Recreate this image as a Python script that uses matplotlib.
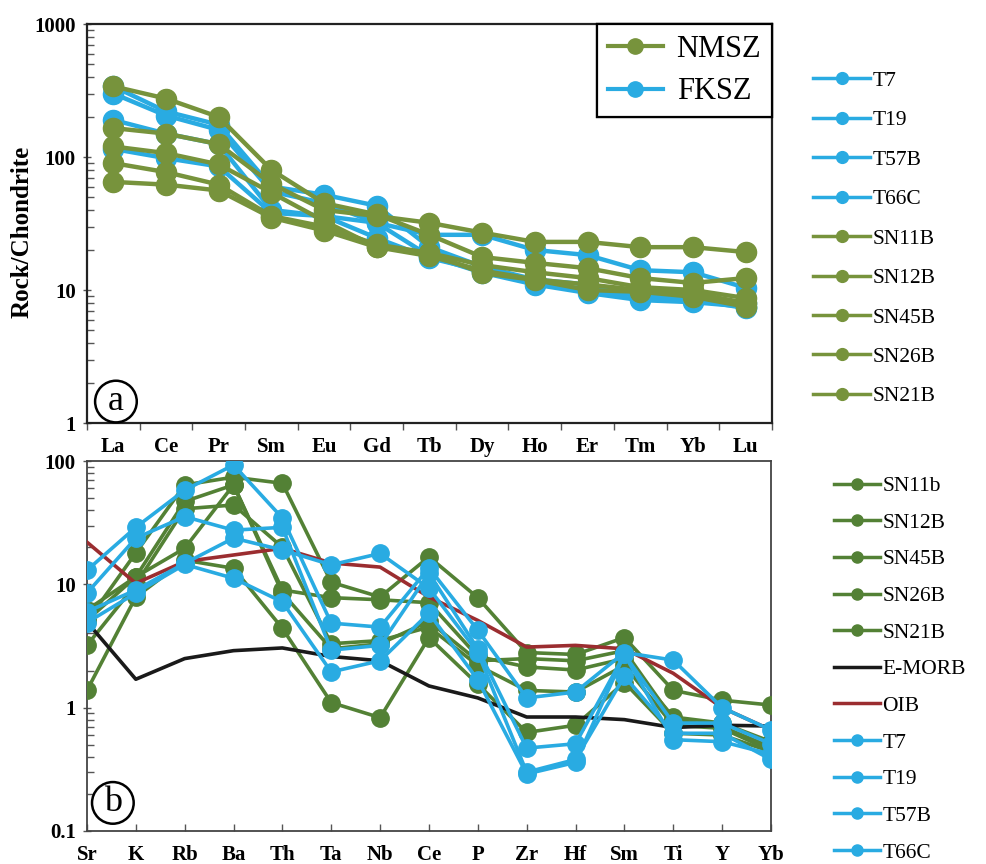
import matplotlib
matplotlib.use('Agg')
import matplotlib.pyplot as plt
from matplotlib.lines import Line2D
from matplotlib.ticker import FixedLocator, NullFormatter, LogLocator

plt.rcParams['font.family'] = ['Liberation Serif', 'DejaVu Serif']

# ---------------- data: panel (a) chondrite-normalised REE ----------------
ree = ['La', 'Ce', 'Pr', 'Sm', 'Eu', 'Gd', 'Tb', 'Dy', 'Ho', 'Er', 'Tm', 'Yb', 'Lu']
ree_T7 = [340, 220, 175, 60, 52, 43, 21, 15, 12, 11, 9.0, 8.5, 7.3]
ree_T19 = [300, 205, 160, 55, 45, 32, 26, 26, 20, 18.3, 14.1, 13.6, 10.4]
ree_T57B = [190, 150, 125, 40, 36, 32, 18, 13.5, 11, 9.5, 8.4, 8.1, 7.5]
ree_T66C = [115, 98, 85, 38, 36, 24.6, 17.4, 14, 11.5, 10, 9.0, 8.5, 8.0]
ree_SN11B = [340, 275, 200, 80, 45, 37, 26, 17.7, 16, 14.6, 12.3, 11.3, 12.3]
ree_SN12B = [165, 150, 125, 63, 40, 36, 32, 27, 23, 23, 21, 21, 19.3]
ree_SN45B = [120, 107, 88, 54, 33, 21, 19, 15.4, 13.6, 12.3, 10.5, 10, 8.7]
ree_SN26B = [90, 77, 62, 36, 30, 22, 19, 13.4, 11.9, 10, 9.7, 8.9, 7.5]
ree_SN21B = [65, 62, 56, 35, 28, 21, 18, 14, 12, 11, 10, 9.5, 8.0]

ree_blue_names = ['T7', 'T19', 'T57B', 'T66C']
ree_blue = [ree_T7, ree_T19, ree_T57B, ree_T66C]
ree_green_names = ['SN11B', 'SN12B', 'SN45B', 'SN26B', 'SN21B']
ree_green = [ree_SN11B, ree_SN12B, ree_SN45B, ree_SN26B, ree_SN21B]

# ---------------- data: panel (b) spider diagram ----------------
spider = ['Sr', 'K', 'Rb', 'Ba', 'Th', 'Ta', 'Nb', 'Ce', 'P', 'Zr', 'Hf', 'Sm', 'Ti', 'Y', 'Yb']
sp_SN11b = [5.0, 18, 64, 74, 66, 10.4, 7.9, 16.7, 7.8, 2.8, 2.7, 3.7, 1.38, 1.15, 1.05]
sp_SN12B = [6.2, 11.5, 47, 64, 9.0, 7.8, 7.5, 7.1, 2.6, 2.14, 2.02, 2.5, 0.84, 0.75, 0.53]
sp_SN45B = [3.2, 10, 41, 44, 20, 3.3, 3.5, 4.5, 2.2, 1.38, 1.34, 2.2, 0.72, 0.68, 0.45]
sp_SN26B = [1.38, 7.9, 15.7, 13.5, 4.4, 1.1, 0.83, 3.7, 1.55, 0.63, 0.72, 1.6, 0.62, 0.6, 0.44]
sp_SN21B = [5.1, 11.5, 19.6, 64, 8.5, 3.0, 3.3, 5.0, 2.4, 2.5, 2.4, 2.9, 0.8, 0.7, 0.48]
sp_EMORB = [4.96, 1.7, 2.5, 2.9, 3.05, 2.6, 2.4, 1.5, 1.2, 0.84, 0.84, 0.80, 0.69, 0.72, 0.71]
sp_OIB = [22, 10.2, 15.3, 17.3, 19.6, 14.9, 13.8, 7.9, 5.1, 3.1, 3.2, 3.0, 1.9, 1.0, 0.66]
sp_T7 = [13, 29, 58, 93, 34.5, 4.85, 4.5, 13.6, 4.25, 1.2, 1.34, 2.8, 2.43, 1.0, 0.66]
sp_T19 = [8.5, 23.7, 35.4, 27.5, 29, 2.93, 3.2, 12.3, 3.0, 0.47, 0.51, 2.7, 0.75, 0.75, 0.51]
sp_T57B = [6.0, 9.0, 14.8, 23.7, 19, 14.4, 17.8, 9.3, 2.8, 0.30, 0.38, 1.8, 0.62, 0.62, 0.38]
sp_T66C = [4.9, 8.5, 14.5, 11.2, 7.2, 1.95, 2.4, 5.85, 1.68, 0.29, 0.36, 2.7, 0.55, 0.53, 0.42]

sp_green_names = ['SN11b', 'SN12B', 'SN45B', 'SN26B', 'SN21B']
sp_green = [sp_SN11b, sp_SN12B, sp_SN45B, sp_SN26B, sp_SN21B]
sp_blue_names = ['T7', 'T19', 'T57B', 'T66C']
sp_blue = [sp_T7, sp_T19, sp_T57B, sp_T66C]

# ---------------- styles ----------------
BLUE = '#29ABE2'
OLIVE = '#77933C'
GREEN = '#538135'
BLACK = '#1a1a1a'
RED = '#9B2D30'
FS = 15
LFS = 15.5

fig = plt.figure(figsize=(9.87, 8.64), dpi=100)
ax1 = fig.add_axes([0.0881, 0.5104, 0.6940, 0.4618])
ax2 = fig.add_axes([0.0881, 0.0382, 0.6930, 0.4282])

# ---- panel a ----
xr = list(range(len(ree)))
for vals in ree_blue:
    ax1.plot(xr, vals, color=BLUE, lw=3.2, marker='o', ms=14.5, mec=BLUE, mfc=BLUE, zorder=3)
for vals in ree_green:
    ax1.plot(xr, vals, color=OLIVE, lw=3.2, marker='o', ms=14.5, mec=OLIVE, mfc=OLIVE, zorder=4)
ax1.set_yscale('log')
ax1.set_ylim(1, 1000)
ax1.set_xlim(-0.5, len(ree) - 0.5)
ax1.set_xticks(xr)
ax1.set_xticklabels(ree, fontsize=FS, fontweight='bold')
ax1.xaxis.set_minor_locator(FixedLocator([i - 0.5 for i in range(len(ree) + 1)]))
ax1.tick_params(axis='x', which='major', length=0, pad=10)
ax1.tick_params(axis='x', which='minor', length=5, width=1, direction='out', color='#555555')
ax1.set_yticks([1, 10, 100, 1000])
ax1.set_yticklabels(['1', '10', '100', '1000'], fontsize=FS, fontweight='bold')
ax1.yaxis.set_minor_locator(LogLocator(base=10, subs=range(2, 10)))
ax1.yaxis.set_minor_formatter(NullFormatter())
ax1.tick_params(axis='y', which='major', length=6, width=1, direction='inout', pad=5, color='#555555')
ax1.tick_params(axis='y', which='minor', length=5, width=1, direction='in', color='#555555')
ax1.set_ylabel('Rock/Chondrite', fontsize=18, fontweight='bold')
ax1.yaxis.set_label_coords(-0.078, 0.48)
for s in ax1.spines.values():
    s.set_linewidth(1.6)
    s.set_color('#222222')

leg_in = ax1.legend([Line2D([], [], color=OLIVE, lw=3, marker='o', ms=11),
                     Line2D([], [], color=BLUE, lw=3, marker='o', ms=11)],
                    ['NMSZ', 'FKSZ'], loc='upper right', bbox_to_anchor=(1.0, 1.0),
                    borderaxespad=0, fancybox=False, edgecolor='black', framealpha=1,
                    fontsize=22, handlelength=1.8, handletextpad=0.45, labelspacing=0.45,
                    borderpad=0.35)
leg_in.get_frame().set_linewidth(1.6)
ax1.add_artist(leg_in)

ax1.text(0.05, 1.45, 'a', fontsize=26, ha='center', va='center',
         bbox=dict(boxstyle='circle,pad=0.12', fc='white', ec='black', lw=1.8), zorder=6)

h1 = [Line2D([], [], color=BLUE, lw=2.5, marker='o', ms=8.5) for _ in ree_blue_names] + \
     [Line2D([], [], color=OLIVE, lw=2.5, marker='o', ms=8.5) for _ in ree_green_names]
fig.legend(h1, ree_blue_names + ree_green_names, loc='upper left',
           bbox_to_anchor=(0.824, 0.918), frameon=False, fontsize=LFS,
           handlelength=2.65, handletextpad=0.1, labelspacing=0.9, borderaxespad=0, borderpad=0)

# ---- panel b ----
xs = list(range(len(spider)))
for vals in sp_green:
    ax2.plot(xs, vals, color=GREEN, lw=2.6, marker='o', ms=12.5, mec=GREEN, mfc=GREEN, zorder=3)
ax2.plot(xs, sp_EMORB, color=BLACK, lw=2.6, zorder=4)
ax2.plot(xs, sp_OIB, color=RED, lw=2.6, zorder=4)
for vals in sp_blue:
    ax2.plot(xs, vals, color=BLUE, lw=2.6, marker='o', ms=12.5, mec=BLUE, mfc=BLUE, zorder=5)
ax2.set_yscale('log')
ax2.set_ylim(0.1, 100)
ax2.set_xlim(0, len(spider) - 1)
ax2.set_xticks(xs)
ax2.set_xticklabels(spider, fontsize=FS, fontweight='bold')
ax2.tick_params(axis='x', which='major', length=5, width=1, direction='in', pad=10, color='#555555')
ax2.set_yticks([0.1, 1, 10, 100])
ax2.set_yticklabels(['0.1', '1', '10', '100'], fontsize=FS, fontweight='bold')
ax2.yaxis.set_minor_locator(LogLocator(base=10, subs=range(2, 10)))
ax2.yaxis.set_minor_formatter(NullFormatter())
ax2.tick_params(axis='y', which='major', length=6, width=1, direction='inout', pad=5, color='#555555')
ax2.tick_params(axis='y', which='minor', length=5, width=1, direction='in', color='#555555')
for s in ax2.spines.values():
    s.set_linewidth(1.3)
    s.set_color('#444444')

ax2.text(0.53, 0.169, 'b', fontsize=26, ha='center', va='center',
         bbox=dict(boxstyle='circle,pad=0.12', fc='white', ec='black', lw=1.8), zorder=6)

h2 = [Line2D([], [], color=GREEN, lw=2.5, marker='o', ms=8) for _ in sp_green_names] + \
     [Line2D([], [], color=BLACK, lw=2.5), Line2D([], [], color=RED, lw=2.5)] + \
     [Line2D([], [], color=BLUE, lw=2.5, marker='o', ms=8) for _ in sp_blue_names]
fig.legend(h2, sp_green_names + ['E-MORB', 'OIB'] + sp_blue_names, loc='upper left',
           bbox_to_anchor=(0.845, 0.449), frameon=False, fontsize=LFS,
           handlelength=2.15, handletextpad=0.1, labelspacing=0.77, borderaxespad=0, borderpad=0)

fig.savefig('out.png', dpi=100)
